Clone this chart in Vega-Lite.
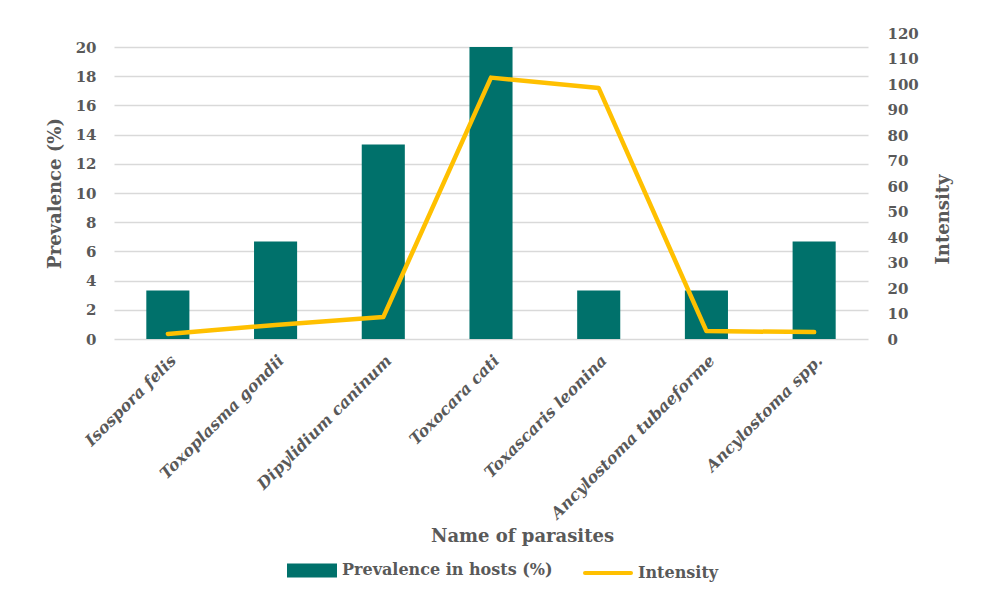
{
  "$schema": "https://vega.github.io/schema/vega-lite/v6.json",
  "autosize": {"type": "none"},
  "width": 754,
  "height": 306,
  "padding": {"left": 114, "top": 33, "right": 113, "bottom": 257},
  "background": "#ffffff",
  "config": {
    "view": {"stroke": null},
    "font": "DejaVu Serif",
    "axis": {
      "labelFont": "DejaVu Serif",
      "labelFontWeight": "bold",
      "labelColor": "#595959",
      "labelFontSize": 15,
      "titleFont": "DejaVu Serif",
      "titleFontWeight": "bold",
      "titleColor": "#595959",
      "titleFontSize": 18,
      "ticks": false,
      "domain": false
    }
  },
  "data": {
    "values": [
      {"parasite": "Isospora felis", "prevalence": 3.33, "intensity": 2.0},
      {"parasite": "Toxoplasma gondii", "prevalence": 6.67, "intensity": 5.5},
      {"parasite": "Dipylidium caninum", "prevalence": 13.33, "intensity": 8.6},
      {"parasite": "Toxocara cati", "prevalence": 20.0, "intensity": 102.5},
      {"parasite": "Toxascaris leonina", "prevalence": 3.33, "intensity": 98.4},
      {"parasite": "Ancylostoma tubaeforme", "prevalence": 3.33, "intensity": 3.1},
      {"parasite": "Ancylostoma spp.", "prevalence": 6.67, "intensity": 2.7}
    ]
  },
  "encoding": {
    "x": {
      "field": "parasite",
      "type": "nominal",
      "sort": null,
      "scale": {"paddingInner": 0.6, "paddingOuter": 0.3},
      "axis": {
        "title": "Name of parasites",
        "labelAngle": -45,
        "labelFontStyle": "italic",
        "labelFontSize": 16,
        "labelPadding": 13,
        "labelLimit": 0,
        "titleX": 408,
        "titleY": 197,
        "titleFontSize": 18,
        "titleBaseline": "middle",
        "titleAlign": "center",
        "grid": false
      }
    }
  },
  "layer": [
    {
      "mark": {"type": "bar", "fill": "#00716B"},
      "encoding": {
        "y": {
          "field": "prevalence",
          "type": "quantitative",
          "scale": {"domain": [0, 20.96], "nice": false, "zero": true},
          "axis": {
            "title": "Prevalence (%)",
            "values": [0, 2, 4, 6, 8, 10, 12, 14, 16, 18, 20],
            "grid": true,
            "gridColor": "#D9D9D9",
            "gridWidth": 1.5,
            "labelPadding": 18,
            "titleX": -59,
            "titleY": 160,
            "titleAngle": -90,
            "titleBaseline": "middle",
            "titleAlign": "center"
          }
        },
        "color": {
          "datum": "Prevalence in hosts (%)",
          "type": "nominal",
          "scale": {
            "domain": ["Prevalence in hosts (%)", "Intensity"],
            "range": ["#00716B", "#FFC000"]
          },
          "legend": {
            "orient": "none",
            "legendX": 173,
            "legendY": 512,
            "direction": "horizontal",
            "title": null,
            "symbolSize": 2116,
            "symbolStrokeWidth": 4,
            "labelFont": "DejaVu Serif",
            "labelFontSize": 16,
            "labelFontWeight": "bold",
            "labelColor": "#595959",
            "labelLimit": 0,
            "labelOffset": 5,
            "columnPadding": 24,
            "encode": {
              "symbols": {
                "update": {
                  "shape": {"signal": "datum.value === 'Intensity' ? 'stroke' : 'M-1,-0.22H1V0.22H-1Z'"},
                  "fill": {"signal": "datum.value === 'Intensity' ? 'transparent' : '#00716B'"},
                  "stroke": {"signal": "datum.value === 'Intensity' ? '#FFC000' : 'transparent'"},
                  "strokeWidth": {"value": 4},
                  "strokeCap": {"value": "round"},
                  "opacity": {"value": 1}
                }
              }
            }
          }
        }
      }
    },
    {
      "mark": {"type": "line", "stroke": "#FFC000", "strokeWidth": 4.5, "strokeCap": "round", "strokeJoin": "round"},
      "encoding": {
        "y": {
          "field": "intensity",
          "type": "quantitative",
          "scale": {"domain": [0, 120], "nice": false},
          "axis": {
            "title": "Intensity",
            "orient": "right",
            "values": [0, 10, 20, 30, 40, 50, 60, 70, 80, 90, 100, 110, 120],
            "grid": false,
            "labelPadding": 19,
            "titleX": 75,
            "titleY": 186,
            "titleAngle": 270,
            "titleBaseline": "middle",
            "titleAlign": "center"
          }
        },
        "color": {"datum": "Intensity", "type": "nominal"}
      }
    }
  ],
  "resolve": {"scale": {"y": "independent"}}
}
